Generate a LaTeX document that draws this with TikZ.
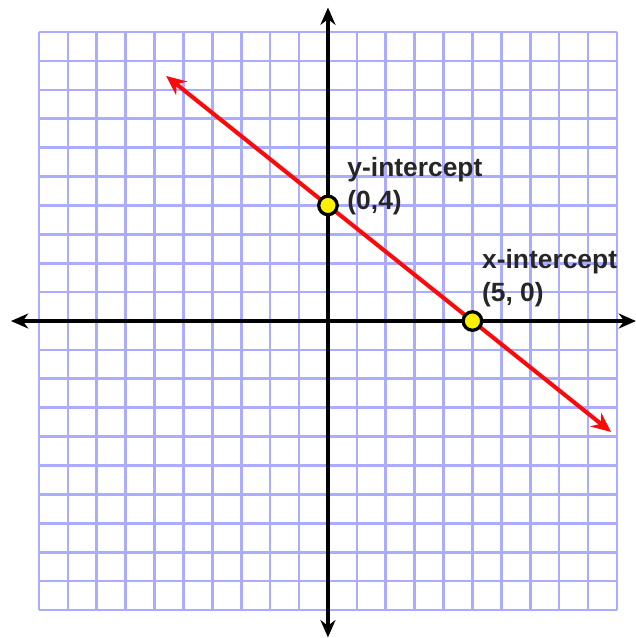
\documentclass[tikz,border=0pt]{standalone}
\usepackage{fontspec}
\setmainfont{Liberation Sans}
\definecolor{gridBlue}{RGB}{172, 172, 255}
\definecolor{lineRed}{RGB}{250, 10, 10}
\definecolor{dotYellow}{RGB}{255, 240, 0}
\usetikzlibrary{arrows.meta, positioning}
\tikzset{
  gridline/.style={gridBlue, line width=1.3pt},
  axisline/.style={{Stealth[length=3mm, width=2.6mm]}-{Stealth[length=3mm, width=2.6mm]}, line width=2pt, black},
  redline/.style={{Stealth[length=3.4mm, width=3mm]}-{Stealth[length=3.4mm, width=3mm]}, line width=2pt, lineRed},
  dotmark/.style={circle, draw=black, fill=dotYellow, line width=1.6pt, minimum size=0.32cm, inner sep=0pt},
  lbl/.style={align=left, inner sep=0pt, text=black!85, font=\fontsize{13}{16}\selectfont\bfseries},
}

\begin{document}
\begin{tikzpicture}[x=0.5cm, y=0.5cm]
  \useasboundingbox (-11.35, -10.97) rectangle (10.66, 11.11);

  % Grid
  \draw[gridline, step=0.5cm] (-10, -10) grid (10, 10);

  % Axes
  \coordinate (xl) at (-10.97, 0);
  \coordinate (xr) at (10.66, 0);
  \coordinate (yb) at (0, -10.95);
  \coordinate (yt) at (0, 10.85);
  \draw[axisline] (xl) -- (xr);
  \draw[axisline] (yb) -- (yt);

  % Line through the intercepts
  \coordinate (la) at (-5.6, 8.48);
  \coordinate (lb) at (9.8, -3.84);
  \draw[redline] (la) -- (lb);

  % Intercepts
  \node[dotmark] (yint) at (0, 4) {};
  \node[dotmark] (xint) at (5, 0) {};

  % Labels
  \node[lbl, anchor=south west] (ylbl) at ([xshift=0.33cm, yshift=-0.17cm]yint.center) {y-intercept\\(0,4)};
  \node[lbl, anchor=south west] (xlbl) at ([xshift=0.16cm, yshift=0.24cm]xint.center) {x-intercept\\(5, 0)};
\end{tikzpicture}
\end{document}
